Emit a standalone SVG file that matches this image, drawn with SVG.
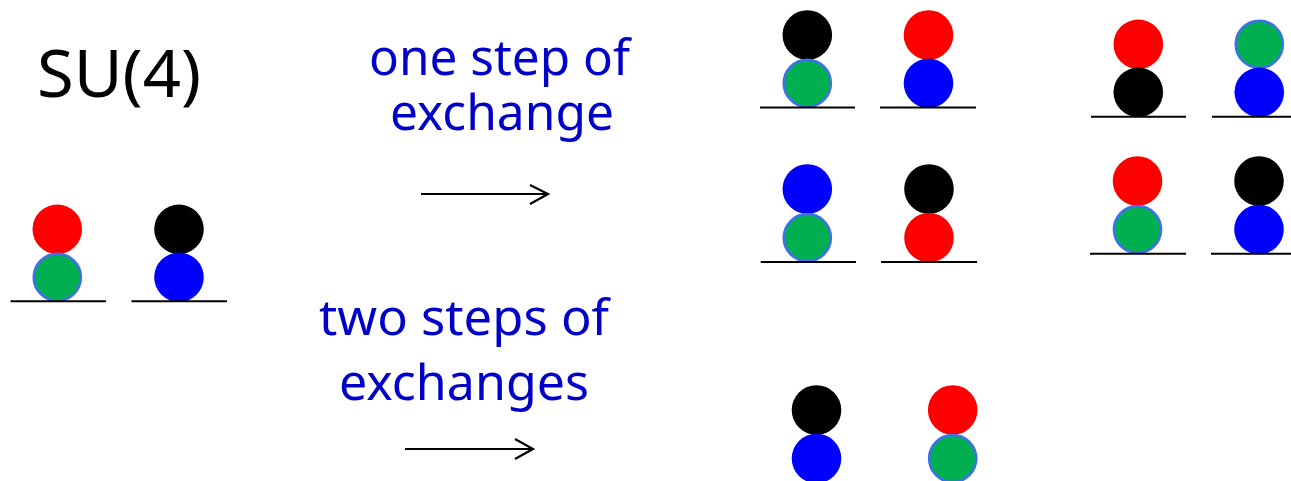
<svg xmlns="http://www.w3.org/2000/svg" width="1291" height="481" viewBox="0 0 1291 481">
  <style>
    .title { font-family: "Noto Sans", "DejaVu Sans", sans-serif; font-size: 66px; fill: #000000; }
    .label { font-family: "Noto Sans", "DejaVu Sans", sans-serif; font-size: 50px; fill: #0000C8; }
    .red { fill: #FF0000; }
    .black { fill: #000000; }
    .blue { fill: #0000FF; }
    .green { fill: #00B050; stroke: #3F6FEE; stroke-width: 2.5; }
    .floor { stroke: #000000; stroke-width: 2; }
    .arrow { stroke: #000000; stroke-width: 2.2; fill: none; }
  </style>

  <!-- heading and step labels -->
  <text class="title" x="37" y="97" textLength="164" lengthAdjust="spacingAndGlyphs">SU(4)</text>
  <text class="label" x="369" y="75" textLength="261" lengthAdjust="spacingAndGlyphs">one step of</text>
  <text class="label" x="390" y="130" textLength="224" lengthAdjust="spacingAndGlyphs">exchange</text>
  <text class="label" x="319" y="335" textLength="290" lengthAdjust="spacingAndGlyphs">two steps of</text>
  <text class="label" x="339" y="400" textLength="250" lengthAdjust="spacingAndGlyphs">exchanges</text>

  <!-- arrows -->
  <g id="connectors">
    <path class="arrow" d="M421,194 H547 M530,185 L548,194 L530,204"/>
    <path class="arrow" d="M405,449 H532 M515,439 L533,449 L515,459"/>
  </g>

  <!-- initial configuration -->
  <g id="initial">
    <g id="site-a0">
      <circle class="red" cx="57.3" cy="229.3" r="24.8"/>
      <circle class="green" cx="57.3" cy="277.3" r="23.6"/>
      <line class="floor" x1="10.5" y1="301.3" x2="106" y2="301.3"/>
    </g>
    <g id="site-b0">
      <circle class="black" cx="179" cy="229.3" r="24.8"/>
      <circle class="blue" cx="179" cy="277.3" r="24.8"/>
      <line class="floor" x1="131.5" y1="301.3" x2="227" y2="301.3"/>
    </g>
  </g>

  <!-- one exchange: first column -->
  <g id="one-step-1">
    <g id="s1-a">
      <circle class="black" cx="807.3" cy="35" r="24.8"/>
      <circle class="green" cx="807.3" cy="83.3" r="23.6"/>
      <line class="floor" x1="760" y1="107.5" x2="855" y2="107.5"/>
    </g>
    <g id="s1-b">
      <circle class="red" cx="928.5" cy="35" r="24.8"/>
      <circle class="blue" cx="928.5" cy="83.3" r="24.8"/>
      <line class="floor" x1="880" y1="107.5" x2="976" y2="107.5"/>
    </g>
  </g>

  <g id="one-step-2">
    <g id="s2-a">
      <circle class="blue" cx="807.3" cy="189" r="24.8"/>
      <circle class="green" cx="807.3" cy="237.7" r="23.6"/>
      <line class="floor" x1="760.7" y1="262" x2="856" y2="262"/>
    </g>
    <g id="s2-b">
      <circle class="black" cx="929" cy="189" r="24.8"/>
      <circle class="red" cx="929" cy="237.7" r="24.8"/>
      <line class="floor" x1="881" y1="262" x2="977" y2="262"/>
    </g>
  </g>

  <!-- one exchange: second column -->
  <g id="one-step-3">
    <g id="s3-a">
      <circle class="red" cx="1138.3" cy="44.3" r="24.8"/>
      <circle class="black" cx="1138.3" cy="92.3" r="24.8"/>
      <line class="floor" x1="1091" y1="116.8" x2="1186" y2="116.8"/>
    </g>
    <g id="s3-b">
      <circle class="green" cx="1259.3" cy="44.3" r="23.6"/>
      <circle class="blue" cx="1259.3" cy="92.3" r="24.8"/>
      <line class="floor" x1="1212" y1="116.8" x2="1291" y2="116.8"/>
    </g>
  </g>

  <g id="one-step-4">
    <g id="s4-a">
      <circle class="red" cx="1137.5" cy="181" r="24.8"/>
      <circle class="green" cx="1137.5" cy="229.5" r="23.6"/>
      <line class="floor" x1="1090" y1="253.7" x2="1186" y2="253.7"/>
    </g>
    <g id="s4-b">
      <circle class="black" cx="1259" cy="181" r="24.8"/>
      <circle class="blue" cx="1259" cy="229.5" r="24.8"/>
      <line class="floor" x1="1211" y1="253.7" x2="1291" y2="253.7"/>
    </g>
  </g>

  <!-- two exchanges -->
  <g id="two-step">
    <g id="t-a">
      <circle class="black" cx="816.5" cy="410" r="24.8"/>
      <circle class="blue" cx="816.5" cy="458.5" r="24.8"/>
    </g>
    <g id="t-b">
      <circle class="red" cx="952.7" cy="410" r="24.8"/>
      <circle class="green" cx="952.7" cy="458.5" r="23.6"/>
    </g>
  </g>
</svg>
